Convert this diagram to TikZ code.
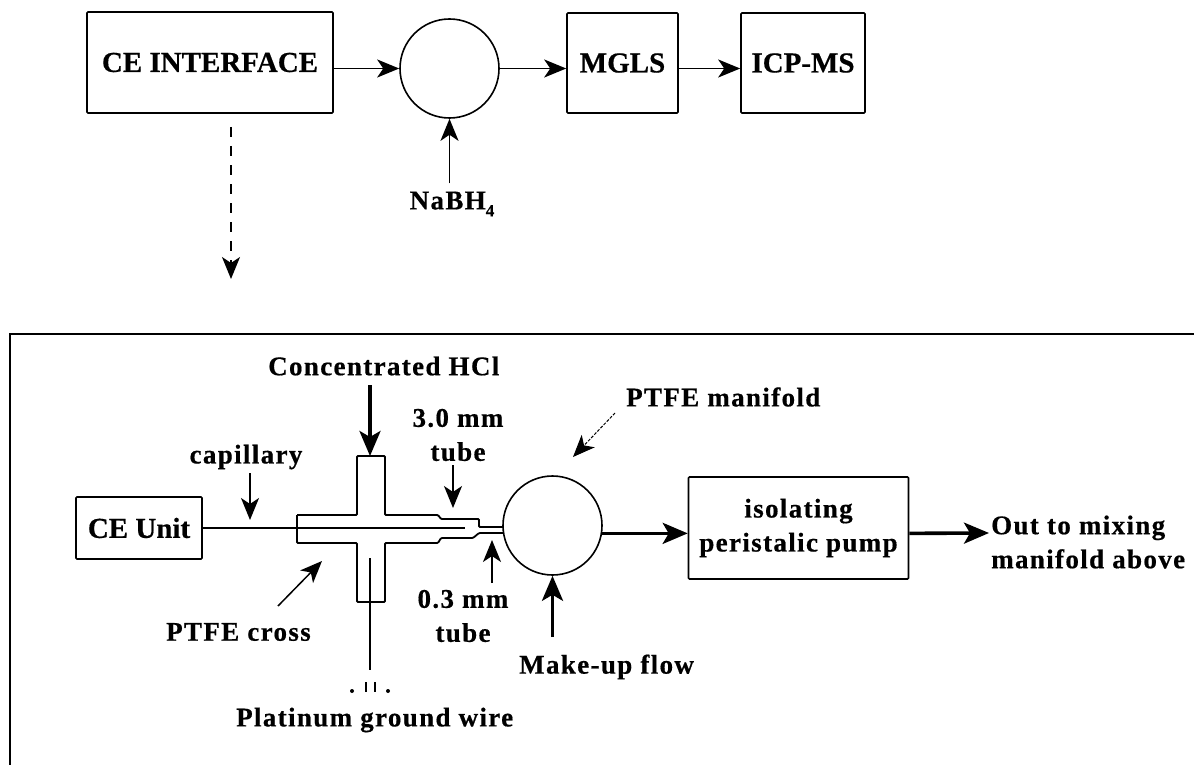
\documentclass[tikz,border=0pt]{standalone}
\usepackage{fontspec}
\setmainfont{Liberation Serif}[BoldFeatures = {FakeBold = 0.5}]
\newfontfamily\spacedfont{Liberation Serif}[LetterSpace = 5, BoldFeatures = {FakeBold = 0.5}]
\usetikzlibrary{arrows.meta}
\tikzset{
    boxtext/.style = {font = \bfseries\fontsize{29}{34}\selectfont},
    label/.style = {inner sep = 0pt, font = \spacedfont\bfseries\fontsize{27}{34}\selectfont, align = center},
    unit/.style = {draw, line width = 1.6pt, rounded corners = 1pt, inner sep = 0pt, boxtext},
    vessel/.style = {draw, circle, line width = 1.6pt, inner sep = 0pt, minimum size = 99pt},
    thinflow/.style = {line width = 1.8pt, -{Stealth[length = 22pt, width = 18pt, inset = 6pt]}},
    pointer/.style = {line width = 1.5pt, -{Stealth[length = 22pt, width = 18pt, inset = 6pt]}},
    thickflow/.style = {line width = 3.6pt, -{Stealth[length = 25pt, width = 21pt, inset = 6pt]}},
    tubewall/.style = {line width = 1.8pt, rounded corners = 1pt}
}
\begin{document}
\begin{tikzpicture}[x = 1pt, y = -1pt]
        \useasboundingbox (0, 0) rectangle (1194, 765);
        \node [unit, minimum width = 246pt, minimum height = 101pt] (interface) at (210, 62.5) {\raisebox{-3pt}{CE INTERFACE}};
        \node [vessel] (mixer) at (449.5, 68.5) {};
        \node [unit, minimum width = 111pt, minimum height = 100pt] (mgls) at (622.5, 63) {\raisebox{-3pt}{MGLS}};
        \node [unit, minimum width = 124pt, minimum height = 100pt] (icpms) at (803, 63) {\raisebox{-3pt}{ICP-MS}};
        \node [label] (nabh) at (452, 204) {NaBH\raisebox{-7pt}{\fontsize{17}{17}\selectfont 4}};
        \coordinate (dashstart) at (231, 127);
        \coordinate (dashend) at (231, 279);
        \draw [thinflow] (interface.east |- mixer.west) -- (mixer.west);
        \draw [thinflow] (mixer.east) -- (mixer.east -| mgls.west);
        \draw [thinflow] (mgls.east |- mixer.west) -- (icpms.west |- mixer.west);
        \draw [thinflow] (mixer.south |- nabh.north) ++(0, -8) -- (mixer.south);
        \draw [thinflow, dash pattern = on 10pt off 9pt] (dashstart) -- (dashend);

        \draw [line width = 1.6pt] (1194, 334) -- (10, 334) -- (10, 765);

        \node [unit, minimum width = 126pt, minimum height = 62pt] (ceunit) at (139, 528) {CE Unit};
        \node [vessel] (manifold) at (552.5, 525.5) {};
        \node [unit, font = \spacedfont\bfseries\fontsize{27}{34}\selectfont, align = center, minimum width = 220pt, minimum height = 102pt] (pump) at (798.5, 528) {isolating\\peristalic pump};
        \node [label, anchor = west] (hcl) at (268, 366) {Concentrated HCl};
        \node [label, anchor = west] (ptfemanifold) at (626, 397) {PTFE manifold};
        \node [label] (thick) at (458, 435) {3.0 mm\\tube};
        \node [label] (capillary) at (246, 457) {capillary};
        \node [label, anchor = west] (ptfecross) at (166, 632) {PTFE cross};
        \node [label] (thin) at (463, 616) {0.3 mm\\tube};
        \node [label, anchor = west] (makeup) at (519, 667) {Make-up flow};
        \node [label, anchor = west] (platinum) at (236, 720) {Platinum ground wire};
        \node [label, anchor = west, align = left] (out) at (991, 542) {Out to mixing\\manifold above};

        \draw [tubewall] (297, 515) -- (357, 515) -- (357, 456) -- (385, 456) -- (385, 515) -- (438, 515) -- (441, 519) -- (479, 519) -- (479, 527) -- (503.5, 527);
        \draw [tubewall] (297, 515) -- (297, 543) -- (357, 543) -- (357, 602) -- (385, 602) -- (385, 543) -- (438, 543) -- (441, 538) -- (473, 538) -- (479, 533) -- (503.5, 533);

        \coordinate (capillaryend) at (465, 528);
        \coordinate (wiretop) at (370, 558);
        \coordinate (wireend) at (370, 670);
        \coordinate (capillarytip) at (250, 520);
        \coordinate (thicktip) at (453, 508);
        \coordinate (thintip) at (492, 540);
        \coordinate (crosstip) at (322, 561);
        \coordinate (manifoldtip) at (573, 457);
        \draw [line width = 2.2pt] (ceunit.east) -- (capillaryend);
        \draw [line width = 1.8pt] (wiretop) -- (wireend);
        \draw [line width = 2.4pt] (366, 682) -- (366, 692);
        \draw [line width = 2.4pt] (375, 682) -- (375, 692);
        \fill (352, 691) circle (2);
        \fill (388, 691) circle (2);

        \draw [thickflow] (370, 385) -- (370, 456);
        \draw [pointer] (250, 473) -- (capillarytip);
        \draw [pointer] (453, 465) -- (thicktip);
        \draw [pointer] (492, 583) -- (thintip);
        \draw [pointer] (278, 606) -- (crosstip);
        \draw [pointer, line width = 1pt, dash pattern = on 3pt off 1.5pt] (615, 413) -- (manifoldtip);
        \draw [thickflow] (manifold.south |- 0, 637) -- (manifold.south);
        \draw [thickflow] (manifold.-9) -- (manifold.-9 -| pump.west);
        \draw [thickflow] (pump.east |- manifold.-9) -- (989, 533);
    \end{tikzpicture}
\end{document}
